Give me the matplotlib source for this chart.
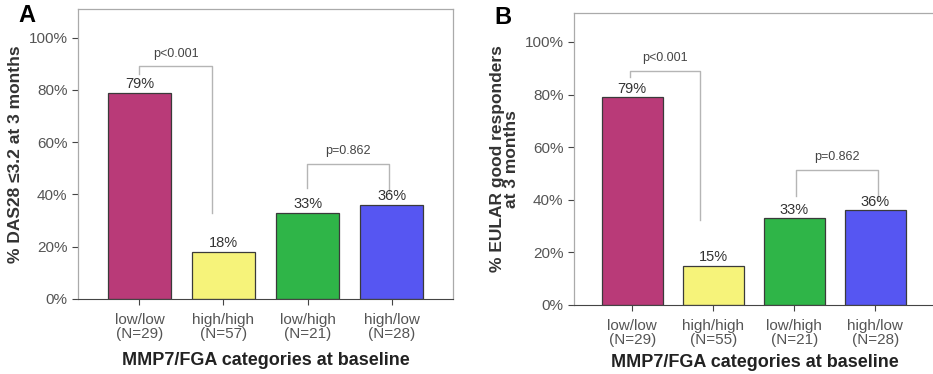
import numpy as np
import matplotlib.pyplot as plt

plt.rcParams['font.family'] = ['Liberation Sans', 'DejaVu Sans']

categories = ['low/low', 'high/high', 'low/high', 'high/low']
n_a = [29, 57, 21, 28]
n_b = [29, 55, 21, 28]
vals_a = [79, 18, 33, 36]
vals_b = [79, 15, 33, 36]
colors = ['#b93a78', '#f6f37a', '#2fb548', '#5656f2']

ylabel_a = '% DAS28 \u22643.2 at 3 months'
ylabel_b = '% EULAR good responders\nat 3 months'
xlabel = 'MMP7/FGA categories at baseline'

# brackets: (x_left, x_right, y_left, y_right, y_top, text)
brackets_a = [(0, 0.86, 86, 33, 89, 'p<0.001'), (1.99, 2.97, 42.5, 40.5, 51.7, 'p=0.862')]
brackets_b = [(-0.03, 0.84, 86.5, 32.5, 89, 'p<0.001'), (2.02, 3.03, 41.5, 40, 51.5, 'p=0.862')]

fig = plt.figure(figsize=(9.33, 3.74), dpi=100)
ax_a = fig.add_axes([78/933, 1-299/374, 375/933, 290/374])
ax_b = fig.add_axes([574/933, 1-305/374, 362/933, 292/374])


def draw(ax, vals, ns, ylabel, brackets, xlim, xlabelpad):
    x = np.arange(len(vals))
    ax.bar(x, vals, width=0.75, color=colors, edgecolor='#3a3a3a', linewidth=0.9, zorder=2)
    for xi, v in zip(x, vals):
        ax.text(xi, v + 0.6, f'{v}%', ha='center', va='bottom', fontsize=10.5, color='#333333')
    for xl, xr, yl, yr, yt, t in brackets:
        ax.plot([xl, xl, xr, xr], [yl, yt, yt, yr], color='#b5b5b5', lw=1, zorder=1)
        ax.text((xl + xr) / 2, yt + 2.5, t, ha='center', va='bottom', fontsize=9, color='#444444')
    ax.set_xlim(*xlim)
    ax.set_ylim(0, 111)
    ax.set_yticks(range(0, 101, 20))
    ax.set_yticklabels([f'{v}%' for v in range(0, 101, 20)], fontsize=11, color='#555555')
    ax.set_xticks(x)
    ax.set_xticklabels([f'{c}\n(N={n})' for c, n in zip(categories, ns)],
                       fontsize=11, color='#555555', linespacing=1.0)
    ax.tick_params(axis='both', direction='out', length=4, color='#444444', width=0.8)
    ax.tick_params(axis='x', pad=6)
    for s in ['top', 'right', 'left']:
        ax.spines[s].set_color('#aaaaaa')
        ax.spines[s].set_linewidth(0.9)
    ax.spines['bottom'].set_color('#444444')
    ax.set_xlabel(xlabel, fontsize=13, fontweight='bold', color='#222222', labelpad=xlabelpad)
    ax.set_ylabel(ylabel, fontsize=12.5, fontweight='bold', color='#333333', labelpad=4,
                  linespacing=0.9)


draw(ax_a, vals_a, n_a, ylabel_a, brackets_a, (-0.73, 3.73), 8)
draw(ax_b, vals_b, n_b, ylabel_b, brackets_b, (-0.72, 3.75), 5)

fig.text(27/933, 1-15/374, 'A', fontsize=17, fontweight='bold', ha='center', va='center')
fig.text(503/933, 1-17/374, 'B', fontsize=17, fontweight='bold', ha='center', va='center')

fig.savefig('out.png', dpi=100)
